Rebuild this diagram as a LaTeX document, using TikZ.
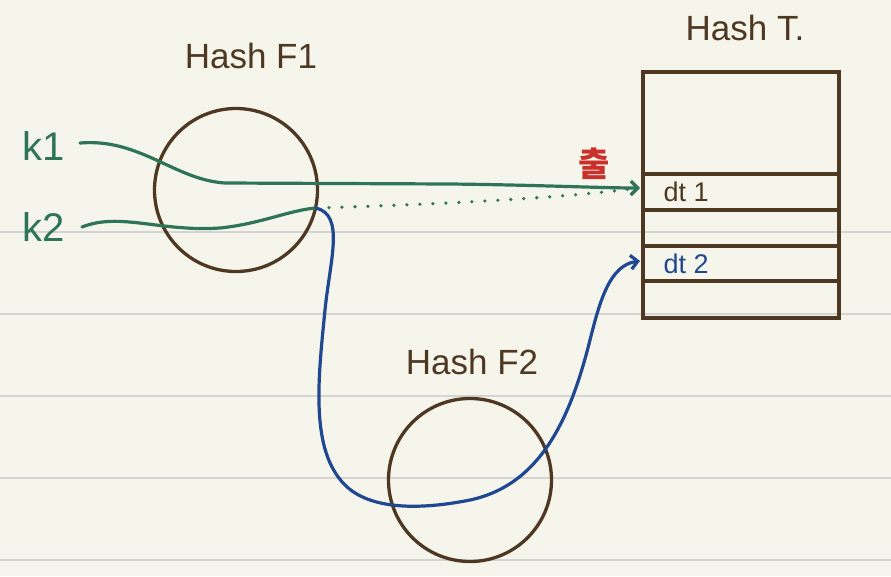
\documentclass[tikz,border=0pt]{standalone}
\usepackage{fontspec}
\setmainfont{Liberation Sans}
\newfontfamily\kofont{Noto Sans CJK KR}
\usetikzlibrary{arrows.meta}
\definecolor{paper}{HTML}{F6F5EC}
\definecolor{rule}{HTML}{D4D4D2}
\definecolor{ink}{HTML}{4E3822}
\definecolor{grn}{HTML}{2E7456}
\definecolor{blu}{HTML}{1F4890}
\definecolor{redink}{HTML}{C9302B}
\tikzset{
  hashcirc/.style={circle,draw=ink,line width=3.3pt,minimum size=163pt,inner sep=0pt},
  title/.style={text=ink,font=\fontsize{35}{35}\selectfont},
  keylbl/.style={text=grn,font=\fontsize{40}{40}\selectfont},
  cell/.style={font=\fontsize{27}{27}\selectfont,anchor=west},
  grnline/.style={draw=grn,line width=3.2pt,line cap=round},
  bluline/.style={draw=blu,line width=3.2pt,line cap=round},
  barb/.style={-{Straight Barb[length=7pt,width=14pt,line width=3.2pt]}},
  ruled/.style={draw=rule,line width=1.6pt},
}
\begin{document}
\begin{tikzpicture}[x=1pt,y=-1pt]
\useasboundingbox (0,0) rectangle (891,576);
\fill[paper] (0,0) rectangle (891,576);
\foreach \yy in {232,314,396,478,560} \draw[ruled] (0,\yy) -- (891,\yy);

% titles
\node[title] (tf1) at (251,56) {Hash F1};
\node[title] (tf2) at (472,362) {Hash F2};
\node[title] (tt) at (745,28) {Hash T.};

% circles
\node[hashcirc] (f1) at (236,190) {};
\node[hashcirc] (f2) at (470,480) {};

% table
\node[draw=ink,line width=3.3pt,minimum width=196pt,minimum height=246pt,inner sep=0pt] (tbl) at (741,195) {};
\foreach \yy in {174,210,246,281} \draw[draw=ink,line width=3.3pt] (643,\yy) -- (839,\yy);
\node[cell,text=ink] (dt1) at (660,192) {dt 1};
\node[cell,text=blu] (dt2) at (660,264) {dt 2};
\coordinate (in1) at (640,188);
\coordinate (in2) at (640,261);

% keys
\node[keylbl] (k1) at (44,146) {k1};
\node[keylbl] (k2) at (44,227) {k2};
\coordinate (k1e) at (80,143);
\coordinate (k2e) at (82,227);
\coordinate (hit) at (316,208);

% collision mark
\node[text=redink,font=\kofont\bfseries\fontsize{34}{34}\selectfont] (col) at (594,164) {출};

% k1 -> dt1
\draw[grnline,barb] (k1e) .. controls (140,138) and (175,180) .. (225,183)
  -- (450,184) .. controls (540,185) and (600,188) .. (in1);
% k2 through F1
\draw[grnline] (k2e) .. controls (120,212) and (160,232) .. (220,228)
  .. controls (260,224) and (290,210) .. (hit);
% dotted continuation
\draw[draw=grn,line width=3.6pt,line cap=round,dash pattern=on 0pt off 13pt] (hit) .. controls (450,204) and (560,198) .. (in1);
% F2 path
\draw[bluline,barb] (hit) .. controls (345,215) and (330,260) .. (325,310)
  .. controls (318,380) and (310,450) .. (345,485)
  .. controls (370,510) and (420,510) .. (470,500)
  .. controls (540,485) and (570,420) .. (590,340)
  .. controls (600,300) and (610,265) .. (in2);
\end{tikzpicture}
\end{document}
